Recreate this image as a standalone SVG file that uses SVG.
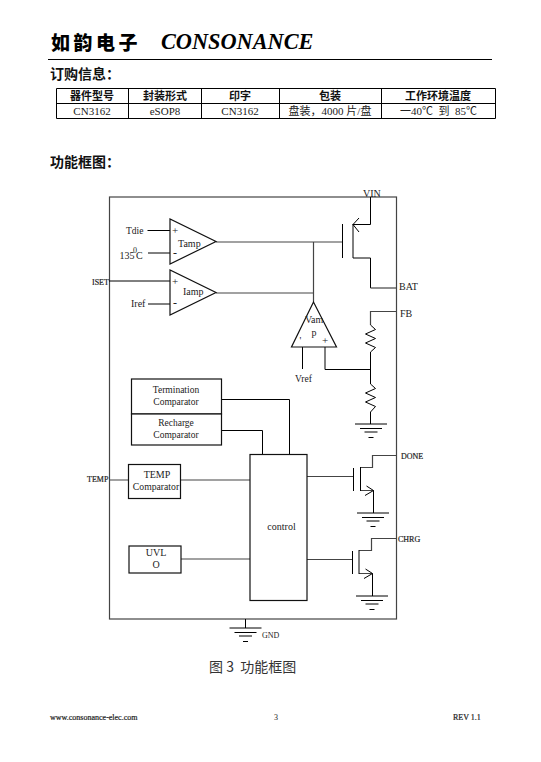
<svg xmlns="http://www.w3.org/2000/svg" width="541" height="762" viewBox="0 0 541 762">
<style>
.k{fill:none;stroke:#000;stroke-width:1}
.g{fill:none;stroke:#444;stroke-width:1.2}
.b{fill:#fff;stroke:#111;stroke-width:1.2}
text{font-family:"Liberation Serif","Noto Sans CJK SC",serif;fill:#222;font-size:10px;white-space:pre}
.c{text-anchor:middle}
.cjk{font-family:"Noto Sans CJK SC","Liberation Serif",sans-serif}
.h{font-weight:700;font-size:11px;fill:#111}
.d{font-size:11px}
.s{font-size:8px;font-weight:400;stroke:#222;stroke-width:.2}
.sec{font-weight:700;font-size:14px;fill:#111}
</style>
<defs>
<g id="gnd" class="k"><path d="M-16 0H16M-11 4.500H11M-6.500 8H6.500M-2.500 13.500H2.500"/></g>
</defs>
<rect width="541" height="762" fill="#fff"/>
<g id="header">
<text x="51" y="50" class="cjk" style="font-size:19px;font-weight:900;letter-spacing:3.500px;fill:#000">如韵电子</text>
<text x="161" y="49" style="font-size:22.300px;font-style:italic;font-weight:700;fill:#000;font-family:'Liberation Serif',serif">CONSONANCE</text>
<path d="M48 59.500H492" stroke="#000" fill="none"/>
<text x="50" y="79" class="cjk sec">订购信息：</text>
<text x="50" y="167" class="cjk sec">功能框图：</text>
</g>
<g id="order-table">
<path d="M56.500 88.500H495.500V118.500H56.500ZM56.500 103.500H495.500M128.500 88.500V118.500M201.500 88.500V118.500M279.500 88.500V118.500M381.500 88.500V118.500" fill="none" stroke="#000"/>
<text x="92" y="100" class="c cjk h">器件型号</text>
<text x="165" y="100" class="c cjk h">封装形式</text>
<text x="240" y="100" class="c cjk h">印字</text>
<text x="330" y="100" class="c cjk h">包装</text>
<text x="438" y="100" class="c cjk h">工作环境温度</text>
<text x="92" y="115" class="c d">CN3162</text>
<text x="165" y="115" class="c d">eSOP8</text>
<text x="240" y="115" class="c d">CN3162</text>
<text x="330" y="115" class="c d">盘装，4000 片/盘</text>
<text x="400" y="115" class="d">一40℃  到  85℃</text>
</g>
<g id="chip-outline"><rect x="109.500" y="197" width="287" height="422" class="g"/></g>
<g id="connectors">
<path class="k" d="M147.500 230.500H170M148 253H170M109 281H170M148 304H170"/>
<path class="g" d="M216 242H342M216 293H313.500M313.500 242V302"/>
<path class="k" d="M370.500 197V224.500H353M353 258H370.500V288"/>
<path class="g" d="M370.500 288H396"/>
<path class="k" d="M359 218L353 224.500L359 232"/>
<path class="g" d="M396 311.500H370.500V325"/>
<path class="k" d="M370.500 325L375.500 329.500L365.500 334L375.500 338.500L365.500 343L375.500 347.500L370.500 352V384L375.500 388.500L365.500 393L375.500 397.500L365.500 402L375.500 406.500L370.500 412V424"/>
<path class="k" d="M302.500 347V369M325 347V369.500H370.500"/>
<path class="k" d="M221 399.500H289.500V454.500M221 430.500H262.500V454.500"/>
<path class="g" d="M109 480H128.500M181 480H250M181 559H250M307 476.500H353M307 559.500H352"/>
<path class="g" d="M396 455.500H372.500V467.500H360.500M360.500 490.500H373.500"/>
<path class="k" d="M373.500 490.500V513M366.500 486L373.500 490.500L365 495.500"/>
<path class="g" d="M396 538.500H371.500V550.500H359M359 573.500H372.500"/>
<path class="k" d="M372.500 573.500V596M365.500 569L372.500 573.500L364 578.500"/>
<path class="k" d="M245.500 619V628"/>
</g>
<g id="pmos"><path class="k" d="M342.500 224V258" stroke-width="1.300"/><path class="k" d="M353 224V258"/></g>
<g id="nmos-done"><path class="k" d="M353.500 468V491M360.500 467V491"/></g>
<g id="nmos-chrg"><path class="k" d="M352.500 551V574M359 550V574"/></g>
<g id="tamp">
<path class="b" d="M170 219V264L216 241.500Z"/>
<text x="172" y="234" style="font-size:11px">+</text><text x="173" y="257" style="font-size:12px">-</text>
<text x="178" y="247">Tamp</text>
<text x="126" y="234" style="font-size:9.500px">Tdie</text>
<text x="119.500" y="259">135</text><text x="133" y="253" style="font-size:8px">0</text><text x="136" y="259">C</text>
</g>
<g id="iamp">
<path class="b" d="M170 270V315L216 292.500Z"/>
<text x="172" y="285" style="font-size:11px">+</text><text x="173" y="307" style="font-size:12px">-</text>
<text x="183" y="295">Iamp</text>
<text x="131" y="307">Iref</text>
</g>
<g id="vamp">
<path class="b" d="M313.500 302L291.500 347H336.500Z"/>
<text x="305" y="323">Vam</text><text x="314" y="336" class="c">p</text>
<text x="299.500" y="344">'</text><text x="322" y="344" style="font-size:11px">+</text>
<text x="295" y="382" style="font-size:9.500px">Vref</text>
</g>
<g id="gnd-fb"><use href="#gnd" x="371" y="424"/></g>
<g id="termination"><rect x="131.500" y="379" width="90" height="35" class="b"/>
<text x="176" y="393" class="c" style="font-size:9.500px">Termination</text><text x="176" y="405" class="c" style="font-size:9.500px">Comparator</text></g>
<g id="recharge"><rect x="131.500" y="414" width="90" height="31" class="b"/>
<text x="176" y="426" class="c" style="font-size:9.500px">Recharge</text><text x="176" y="438" class="c" style="font-size:9.500px">Comparator</text></g>
<g id="temp"><rect x="128.500" y="464.500" width="52" height="34" class="b"/>
<text x="157" y="478" class="c">TEMP</text><text x="156" y="490" class="c" style="font-size:9.700px">Comparator</text></g>
<g id="uvlo"><rect x="129" y="546" width="52" height="27" class="b"/>
<text x="156" y="556" class="c">UVL</text><text x="156" y="568" class="c">O</text></g>
<g id="control"><rect x="250" y="454.500" width="57" height="146" class="b"/>
<text x="281.500" y="530" class="c">control</text></g>
<g id="gnd-done"><use href="#gnd" x="373" y="513"/></g>
<g id="gnd-chrg"><use href="#gnd" x="372" y="596"/></g>
<g id="gnd-main"><use href="#gnd" x="245.500" y="628"/></g>
<g id="labels">
<text x="363" y="197">VIN</text>
<text x="399" y="290">BAT</text>
<text x="400" y="316.500">FB</text>
<text x="92" y="284.500" class="s">ISET</text>
<text x="87" y="482" class="s">TEMP</text>
<text x="401" y="459" class="s">DONE</text>
<text x="398" y="542" class="s">CHRG</text>
<text x="262" y="638" style="font-size:8px">GND</text>
</g>
<g id="caption"><text x="209" y="672" class="cjk" style="font-size:14px;fill:#333">图 3  功能框图</text></g>
<g id="footer">
<text x="50" y="720" style="font-size:8px;stroke:#222;stroke-width:.2">www.consonance-elec.com</text>
<text x="274" y="720" style="font-size:8px">3</text>
<text x="453" y="720" style="font-size:8px;stroke:#222;stroke-width:.2">REV 1.1</text>
</g>
</svg>
